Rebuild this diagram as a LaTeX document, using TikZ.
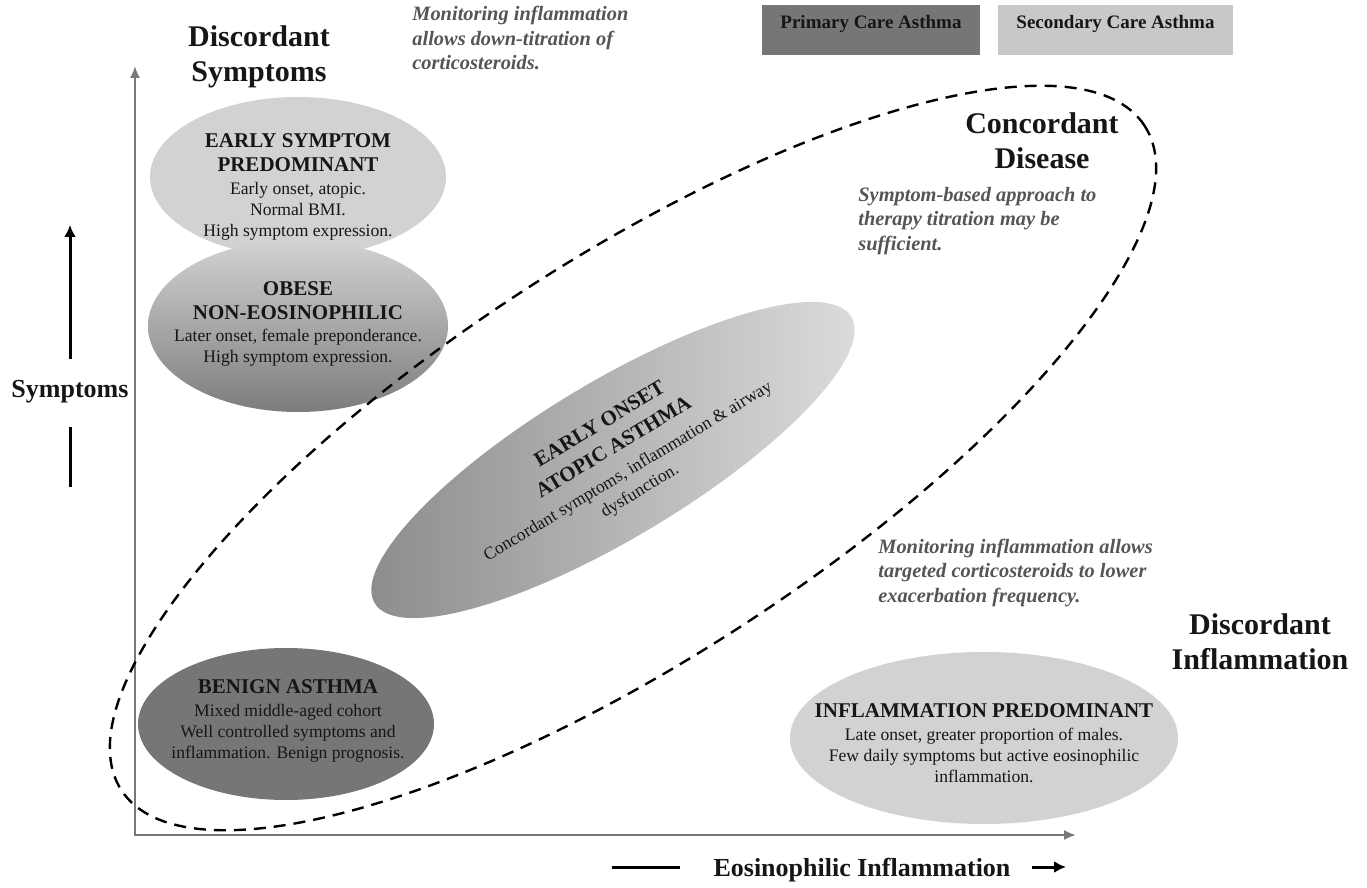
\documentclass[tikz,border=0pt]{standalone}
\usepackage{fontspec}
\setmainfont{Liberation Serif}
\usetikzlibrary{shapes.geometric, arrows.meta, positioning}

\definecolor{primgray}{RGB}{118,118,118}
\definecolor{secgray}{RGB}{200,200,200}
\definecolor{softgray}{RGB}{210,210,210}
\definecolor{midgray}{RGB}{125,125,125}
\definecolor{darkshade}{RGB}{138,138,138}
\definecolor{paleshade}{RGB}{222,222,222}
\definecolor{notegray}{RGB}{85,85,85}
\definecolor{axisgray}{RGB}{120,120,120}
\definecolor{inkgray}{RGB}{22,22,22}

\newcommand{\ovalhead}[1]{{\fontsize{10.5pt}{10.5pt}\selectfont\bfseries #1}}

\begin{document}
\begin{tikzpicture}[x=0.5pt, y=-0.5pt, >={Latex[length=6pt,width=6pt]},
    blob/.style={ellipse, inner sep=0pt},
    blobtext/.style={font=\fontsize{8.8pt}{10.4pt}\selectfont, align=center, text=inkgray, inner sep=0pt},
    bigtitle/.style={font=\fontsize{15pt}{17.5pt}\selectfont\bfseries, align=center, text=inkgray, inner sep=0pt},
    note/.style={font=\fontsize{10.2pt}{12.3pt}\selectfont\bfseries\itshape, align=left, text=notegray, inner sep=0pt, anchor=west},
    axislabel/.style={font=\fontsize{13pt}{15pt}\selectfont\bfseries, text=inkgray, inner sep=0pt},
    legendbox/.style={rectangle, minimum height=25pt, inner sep=0pt},
    legendtext/.style={font=\fontsize{9.5pt}{11pt}\selectfont\bfseries, text=inkgray, inner sep=0pt},
    axis/.style={draw=axisgray, line width=1pt, {Latex[length=6pt,width=5pt]}-{Latex[length=6pt,width=5pt]}},
    pointer/.style={line width=1.5pt, black}]

    \useasboundingbox (0,0) rectangle (1367,888);

    % --- Legend ---
    \node[legendbox, fill=primgray, minimum width=109pt] (primarybox) at (871,30) {};
    \node[legendtext] (primarylabel) at (871,24) {Primary Care Asthma};
    \node[legendbox, fill=secgray, minimum width=117.5pt] (secondarybox) at (1115.5,30) {};
    \node[legendtext] (secondarylabel) at (1115.5,24) {Secondary Care Asthma};

    % --- Axes ---
    \coordinate (origin) at (135,835);
    \coordinate (ytip) at (135,66);
    \coordinate (xtip) at (1076,835);
    \draw[axis] (ytip) -- (origin) -- (xtip);

    % Y-axis label with its arrow
    \node[axislabel] (symptoms) at (70,392) {Symptoms};
    \coordinate (symup0) at (70,359);
    \coordinate (symup1) at (70,225);
    \coordinate (symlo0) at (70,427);
    \coordinate (symlo1) at (70,487);
    \draw[pointer, ->] (symup0) -- (symup1);
    \draw[pointer] (symlo0) -- (symlo1);

    % X-axis label with its arrow
    \node[axislabel] (eosin) at (862,870) {Eosinophilic Inflammation};
    \coordinate (eosl0) at (612,867);
    \coordinate (eosl1) at (680,867);
    \coordinate (eosr0) at (1032,867);
    \coordinate (eosr1) at (1066,867);
    \draw[pointer] (eosl0) -- (eosl1);
    \draw[pointer, ->] (eosr0) -- (eosr1);

    % --- Phenotype ellipses ---
    % 1. Symptom predominant pair, top left
    \node[blob, fill=softgray, minimum width=148pt, minimum height=80pt] (earlysym) at (298,177) {};
    \node[blob, top color=softgray, bottom color=midgray, minimum width=150pt, minimum height=86pt] (obese) at (298,326) {};
    \node[blobtext] (earlysymtext) at (298,187) {\ovalhead{EARLY SYMPTOM}\\[1.5pt]\ovalhead{PREDOMINANT}\\[1pt]Early onset, atopic.\\Normal BMI.\\High symptom expression.};
    \node[blobtext] (obesetext) at (298,324) {\ovalhead{OBESE}\\[1.5pt]\ovalhead{NON-EOSINOPHILIC}\\[1pt]Later onset, female preponderance.\\High symptom expression.};

    % 2. Concordant phenotype along the diagonal
    \node[blob, rotate=31, left color=darkshade, right color=paleshade, minimum width=278pt, minimum height=78pt] (atopic) at (613,460) {};
    \node[blobtext, rotate=31] (atopictext) at (620,458) {\ovalhead{EARLY ONSET}\\[3pt]\ovalhead{ATOPIC ASTHMA}\\[3pt]Concordant symptoms, inflammation \& airway\\[1pt]dysfunction.};

    % 3. Benign asthma, bottom left
    \node[blob, fill=primgray, minimum width=148pt, minimum height=76pt] (benign) at (286,724) {};
    \node[blobtext] (benigntext) at (288,721) {\ovalhead{BENIGN ASTHMA}\\[1pt]Mixed middle-aged cohort\\Well controlled symptoms and\\inflammation. Benign prognosis.};

    % 4. Inflammation predominant, bottom right
    \node[blob, fill=softgray, minimum width=194pt, minimum height=86pt] (inflpred) at (984,738) {};
    \node[blobtext] (inflpredtext) at (984,743) {\ovalhead{INFLAMMATION PREDOMINANT}\\[1pt]Late onset, greater proportion of males.\\Few daily symptoms but active eosinophilic\\inflammation.};

    % --- Concordant disease envelope ---
    \node[blob, draw=black, line width=1.2pt, dash pattern=on 6pt off 4pt, rotate=33, minimum width=610pt, minimum height=200pt] (concordant) at (633,458) {};

    % --- Region titles and notes ---
    \node[bigtitle] (discsym) at (259,57) {Discordant\\Symptoms};
    \node[bigtitle] (concdis) at (1042,141) {Concordant\\Disease};
    \node[bigtitle] (discinfl) at (1260,642) {Discordant\\Inflammation};

    \node[note] (downnote) at (412,38) {Monitoring inflammation\\allows down-titration of\\corticosteroids.};
    \node[note] (symnote) at (858,221) {Symptom-based approach to\\therapy titration may be\\sufficient.};
    \node[note] (targetnote) at (878,573) {Monitoring inflammation allows\\targeted corticosteroids to lower\\exacerbation frequency.};

\end{tikzpicture}
\end{document}
